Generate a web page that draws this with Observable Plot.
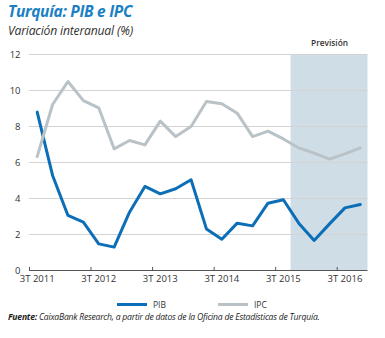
<!DOCTYPE html>
<html>
<head>
<meta charset="utf-8">
<script src="https://cdn.jsdelivr.net/npm/d3@7"></script>
<script src="https://cdn.jsdelivr.net/npm/@observablehq/plot@0.6"></script>
<style>
  body { margin: 0; background: #fff; font-family: "Open Sans", sans-serif; }
  #wrap { width: 385px; height: 338px; position: relative; overflow: hidden; }
  #title { position: absolute; left: 8px; top: 2px; height: 18px; line-height: 18px; font-size: 15.5px; font-weight: 700; font-style: italic; color: #1b80c3; letter-spacing: -0.3px; }
  #subtitle { position: absolute; left: 8px; top: 23px; height: 16px; line-height: 16px; font-size: 12.2px; font-style: italic; color: #333; letter-spacing: -0.2px; }
  #chart { position: absolute; left: 0; top: 38px; }
  #legend { position: absolute; top: 298px; left: 0; width: 385px; height: 12px; font-size: 8.5px; color: #333; }
  .li { position: absolute; top: 0; display: flex; align-items: center; height: 12px; }
  .sw { width: 30px; height: 3px; margin-right: 6px; }
  #source { position: absolute; left: 8px; top: 311px; line-height: 12px; font-size: 8.6px; font-style: italic; color: #222; letter-spacing: -0.22px; white-space: nowrap; }
</style>
</head>
<body>
<div id="wrap">
  <div id="title">Turquía: PIB e IPC</div>
  <div id="subtitle">Variación interanual (%)</div>
  <div id="chart"></div>
  <div id="legend"></div>
  <div id="source"><b>Fuente:</b> CaixaBank Research, a partir de datos de la Oficina de Estadísticas de Turquía.</div>
</div>
<script>
const quarters = ["3T 2011","4T 2011","1T 2012","2T 2012","3T 2012","4T 2012","1T 2013","2T 2013","3T 2013","4T 2013","1T 2014","2T 2014","3T 2014","4T 2014","1T 2015","2T 2015","3T 2015","4T 2015","1T 2016","2T 2016","3T 2016","4T 2016"];
const pib = [8.8, 5.28, 3.06, 2.69, 1.48, 1.3, 3.24, 4.67, 4.26, 4.54, 5.04, 2.31, 1.74, 2.63, 2.48, 3.74, 3.93, 2.63, 1.67, 2.59, 3.48, 3.67];
const ipc = [6.33, 9.22, 10.5, 9.44, 9.04, 6.76, 7.22, 6.98, 8.3, 7.44, 8.0, 9.39, 9.26, 8.74, 7.44, 7.74, 7.31, 6.81, 6.52, 6.19, 6.48, 6.81];
const tickLabels = ["3T 2011","3T 2012","3T 2013","3T 2014","3T 2015","3T 2016"];
const yTicks = [0, 2, 4, 6, 8, 10, 12];
const forecastFrom = "4T 2015";
const forecastLabel = "Previsión";
const seriesNames = ["PIB", "IPC"];
const colors = ["#0b6eb7", "#b9c2c6"];

const data = [];
quarters.forEach((q, i) => {
  data.push({i, q, serie: "PIB", v: pib[i]});
  data.push({i, q, serie: "IPC", v: ipc[i]});
});
const labelIdx = tickLabels.map(t => quarters.indexOf(t));
const fIdx = quarters.indexOf(forecastFrom);
const n = quarters.length;

const chart = Plot.plot({
  width: 385,
  height: 252,
  marginLeft: 29,
  marginRight: 17.5,
  marginTop: 16,
  marginBottom: 20,
  style: { fontFamily: "Open Sans, sans-serif", fontSize: "9px", color: "#333", background: "transparent" },
  x: { domain: [-0.5, n - 0.5] },
  y: { domain: [0, 12] },
  color: { domain: seriesNames, range: colors },
  marks: [
    Plot.rect([{x1: fIdx - 0.5, x2: n - 0.5}], { x1: "x1", x2: "x2", y1: 0, y2: 12, fill: "#cfdde6" }),
    Plot.ruleY(yTicks.filter(d => d > 0), { stroke: "#d3d3d3", strokeWidth: 1 }),
    Plot.axisY({ ticks: yTicks, tickSize: 0, tickPadding: 9, fontSize: 9.5, label: null }),
    Plot.ruleY([0], { stroke: "#555", strokeWidth: 1 }),
    Plot.ruleX(labelIdx, { x: d => d - 0.5, y1: 0, y2: 0.17, stroke: "#555", strokeWidth: 1 }),
    Plot.axisX({ ticks: labelIdx, tickFormat: i => quarters[i], tickSize: 0, tickPadding: 5, fontSize: 9.5, label: null }),
    Plot.text([forecastLabel], { x: (fIdx - 0.5 + n - 0.5) / 2, y: 12, dy: -11, text: d => d, fontSize: 8.3, fontWeight: 600, fill: "#333" }),
    Plot.line(data, { x: "i", y: "v", z: "serie", stroke: "serie", strokeWidth: 3, strokeLinejoin: "round", curve: "linear" })
  ]
});
document.getElementById("chart").appendChild(chart);

const legend = document.getElementById("legend");
const lx = [117, 218];
seriesNames.forEach((s, k) => {
  const el = document.createElement("div");
  el.className = "li";
  el.style.left = lx[k] + "px";
  el.innerHTML = `<div class="sw" style="background:${colors[k]}"></div><span>${s}</span>`;
  legend.appendChild(el);
});
</script>
</body>
</html>
